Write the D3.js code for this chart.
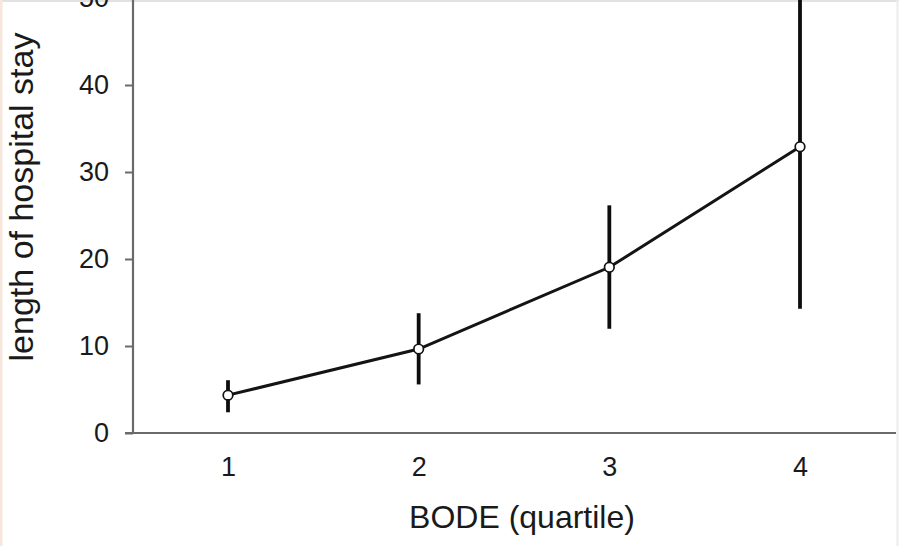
<!DOCTYPE html>
<html>
<head>
<meta charset="utf-8">
<script src="https://cdn.jsdelivr.net/npm/d3@7"></script>
<style>
  html, body { margin: 0; padding: 0; background: #fff; }
  svg { display: block; }
  text { font-family: "Liberation Sans", Arial, sans-serif; fill: #1a1a1a; }
</style>
</head>
<body>
<script>
// BODE quartile vs. length of hospital stay (mean with error bars)
const quartiles = [1, 2, 3, 4];
const meanStay  = [4.35, 9.65, 19.05, 32.9];
const lowerStay = [2.6, 5.8, 12.2, 14.5];
const upperStay = [5.85, 13.55, 25.95, 51.3];
const yTicks = [0, 10, 20, 30, 40, 50];
const xTickLabels = ["1", "2", "3", "4"];

const W = 899, H = 546;
const svg = d3.select("body").append("svg").attr("width", W).attr("height", H);

// faint frame around the figure
svg.append("line").attr("x1", 0).attr("x2", W).attr("y1", 1).attr("y2", 1)
  .attr("stroke", "#e2e2e2").attr("stroke-width", 2);
svg.append("line").attr("x1", 1).attr("x2", 1).attr("y1", 0).attr("y2", H)
  .attr("stroke", "#f6e6dc").attr("stroke-width", 3);
svg.append("line").attr("x1", W - 1.5).attr("x2", W - 1.5).attr("y1", 0).attr("y2", H)
  .attr("stroke", "#ececec").attr("stroke-width", 2);

const x = d3.scaleLinear().domain([1, 4]).range([228, 800]);
const y = d3.scaleLinear().domain([0, 40]).range([433, 85]);

const axisColor = "#6a6a6a";
const yAxisX = 133;

// y axis
const yAxis = svg.append("g").attr("transform", `translate(${yAxisX},0)`)
  .call(d3.axisLeft(y).tickValues(yTicks).tickSize(8).tickPadding(16).tickFormat(d3.format("d")));
yAxis.select(".domain").remove();
yAxis.selectAll(".tick line").attr("stroke", axisColor).attr("stroke-width", 2);
yAxis.selectAll(".tick text").attr("font-size", 27).style("fill", "#1a1a1a");
svg.append("line").attr("x1", yAxisX).attr("x2", yAxisX).attr("y1", 0).attr("y2", y(0))
  .attr("stroke", axisColor).attr("stroke-width", 2.2);

// x axis
svg.append("line").attr("x1", 125).attr("x2", 896).attr("y1", y(0)).attr("y2", y(0))
  .attr("stroke", axisColor).attr("stroke-width", 2.2);
const xAxis = svg.append("g").attr("transform", `translate(0,${y(0)})`)
  .call(d3.axisBottom(x).tickValues(quartiles).tickSize(0).tickPadding(24)
    .tickFormat((d, i) => xTickLabels[i]));
xAxis.select(".domain").remove();
xAxis.selectAll(".tick text").attr("font-size", 27).style("fill", "#1a1a1a");

// axis titles
svg.append("text").attr("x", 522).attr("y", 528).attr("text-anchor", "middle")
  .attr("font-size", 32).text("BODE (quartile)");
svg.append("text").attr("transform", "translate(33,197) rotate(-90)")
  .attr("text-anchor", "middle").attr("font-size", 34).text("length of hospital stay");

const pts = quartiles.map((q, i) => ({ q, m: meanStay[i], lo: lowerStay[i], hi: upperStay[i] }));

// error bars
svg.append("g").selectAll("line").data(pts).join("line")
  .attr("x1", d => x(d.q)).attr("x2", d => x(d.q))
  .attr("y1", d => y(d.lo)).attr("y2", d => y(d.hi))
  .attr("stroke", "#0d0d0d").attr("stroke-width", 3.8).attr("stroke-linecap", "square");

// connecting line
svg.append("path").datum(pts)
  .attr("d", d3.line().x(d => x(d.q)).y(d => y(d.m)))
  .attr("fill", "none").attr("stroke", "#141414").attr("stroke-width", 3);

// markers
svg.append("g").selectAll("circle").data(pts).join("circle")
  .attr("cx", d => x(d.q)).attr("cy", d => y(d.m)).attr("r", 4.8)
  .attr("fill", "#fff").attr("stroke", "#111").attr("stroke-width", 1.7);
</script>
</body>
</html>
